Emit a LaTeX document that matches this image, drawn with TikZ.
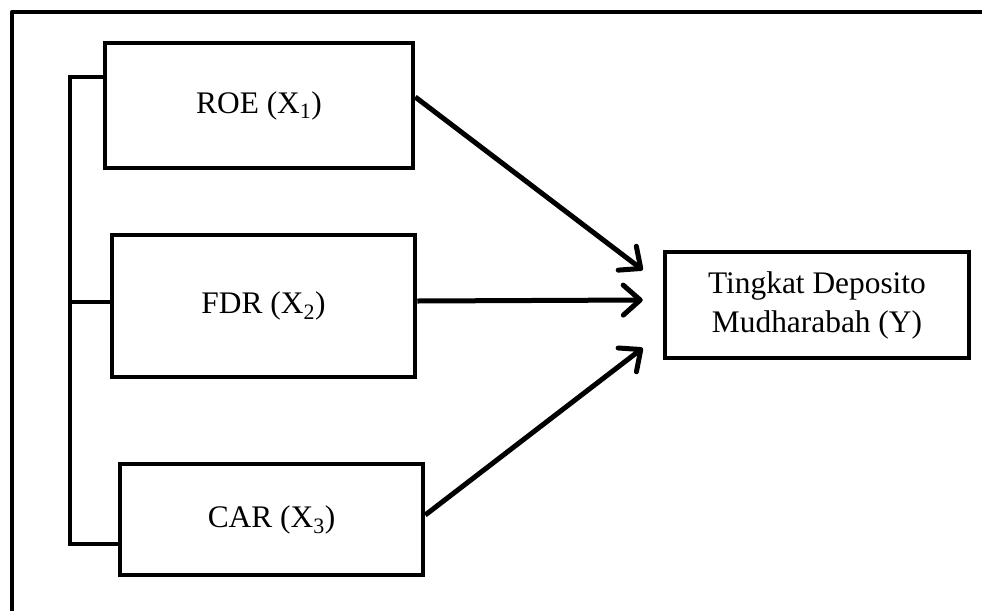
\documentclass[tikz,border=0pt]{standalone}
\usepackage{fontspec}
\setmainfont{Liberation Serif}
\usetikzlibrary{arrows.meta}
\begin{document}
\begin{tikzpicture}[x=1pt,y=-1pt,
  box/.style={draw, line width=4.5pt, inner sep=0pt, align=center,
    font=\fontsize{31.4}{39}\selectfont},
  conn/.style={line width=4.5pt},
  arr/.style={line width=5pt, -{Straight Barb[length=17pt,width=30pt,line width=5pt,round]}}]
\useasboundingbox (0,0) rectangle (982,611);
% outer frame (open to right and bottom)
\draw[line width=4.5pt, line join=round] (12,611) -- (12,12) -- (982,12);
% nodes
\node[box, minimum width=308pt, minimum height=125pt] (roe) at (259,105.5) {ROE (X\textsubscript{1})};
\node[box, minimum width=303pt, minimum height=142pt] (fdr) at (263.5,306) {FDR (X\textsubscript{2})};
\node[box, minimum width=303pt, minimum height=111pt] (car) at (271.5,519.5) {CAR (X\textsubscript{3})};
\node[box, minimum width=304pt, minimum height=106pt] (tgt) at (817,305) {Tingkat Deposito\\Mudharabah (Y)};
% bracket
\coordinate (b1) at (70,77);
\coordinate (b2) at (70,302);
\coordinate (b3) at (70,544);
\draw[conn, line join=miter] (roe.west |- b1) -- (b1) -- (b3) -- (car.west |- b3);
\draw[conn] (b2) -- (fdr.west |- b2);
% arrows
\draw[arr] ([yshift=8.5pt]roe.east) -- ([xshift=-20pt,yshift=35pt]tgt.west);
\draw[arr] ([yshift=5pt]fdr.east) -- ([xshift=-20pt,yshift=5pt]tgt.west);
\draw[arr] ([yshift=4.5pt]car.east) -- ([xshift=-20pt,yshift=-43pt]tgt.west);
\end{tikzpicture}
\end{document}
